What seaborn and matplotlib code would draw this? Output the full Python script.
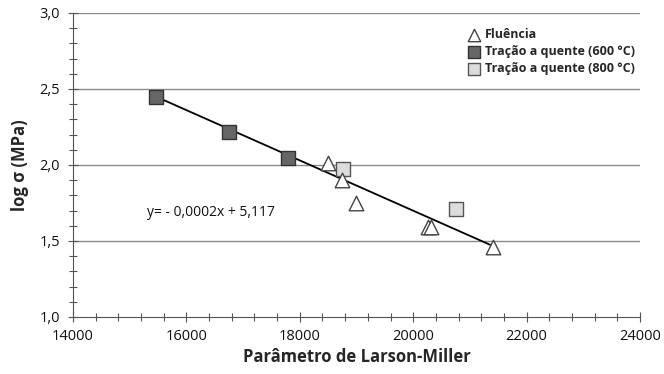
import matplotlib
matplotlib.use("Agg")
import matplotlib.pyplot as plt
import seaborn as sns
import pandas as pd
from matplotlib.ticker import MultipleLocator, FuncFormatter

# Data
fluencia_x = [18500, 18745, 18990, 20260, 20315, 21405]
fluencia_y = [2.01, 1.90, 1.75, 1.595, 1.595, 1.46]
t600_x = [15465, 16750, 17790]
t600_y = [2.447, 2.217, 2.046]
t800_x = [18760, 20755]
t800_y = [1.974, 1.711]
trend_x = [15480, 21405]
trend_y = [2.447, 1.467]
labels = ["Fluência", "Tração a quente (600 °C)", "Tração a quente (800 °C)"]
equation = "y= - 0,0002x + 5,117"

sns.set_theme(style="white")
plt.rcParams['font.family'] = ['Open Sans', 'DejaVu Sans']

fig = plt.figure(figsize=(6.64, 3.74), dpi=100)
ax = fig.add_axes([73 / 664, 57 / 374, 567 / 664, 304 / 374])

ax.set_xlim(14000, 24000)
ax.set_ylim(1.0, 3.0)
for yv in [1.5, 2.0, 2.5, 3.0]:
    ax.axhline(yv, color="#8a8a8a", lw=1.0, zorder=0)

sns.lineplot(x=trend_x, y=trend_y, ax=ax, color="black", lw=1.3, zorder=2)

sns.scatterplot(x=t600_x, y=t600_y, ax=ax, marker="s", s=100, color="#666666",
                edgecolor="#333333", linewidth=1.0, zorder=3, label=labels[1])
sns.scatterplot(x=t800_x, y=t800_y, ax=ax, marker="s", s=100, color="#dcdcdc",
                edgecolor="#555555", linewidth=1.0, zorder=3, label=labels[2])
sns.scatterplot(x=fluencia_x, y=fluencia_y, ax=ax, marker="^", s=110, color="white",
                edgecolor="#444444", linewidth=1.0, zorder=4, label=labels[0])

h, l = ax.get_legend_handles_labels()
order = [l.index(lab) for lab in labels]
leg = ax.legend([h[i] for i in order], [l[i] for i in order], loc="upper right",
                bbox_to_anchor=(1.005, 0.975), frameon=False, fontsize=9,
                handletextpad=0.4, labelspacing=0.32, borderaxespad=0.2,
                handlelength=1.0, markerscale=0.85)
for t in leg.get_texts():
    t.set_fontweight("bold")

ax.text(15300, 1.685, equation, fontsize=10, color="#111111", va="center")

ax.xaxis.set_major_locator(MultipleLocator(2000))
ax.xaxis.set_minor_locator(MultipleLocator(400))
ax.yaxis.set_major_locator(MultipleLocator(0.5))
ax.yaxis.set_minor_locator(MultipleLocator(0.1))
ax.yaxis.set_major_formatter(FuncFormatter(lambda v, p: f"{v:.1f}".replace(".", ",")))
ax.tick_params(axis="both", which="both", direction="inout", color="#555555",
               width=0.8, labelsize=10.5, labelcolor="#111111")
ax.tick_params(axis="x", which="major", pad=5)
ax.tick_params(axis="y", which="major", pad=6)
ax.tick_params(axis="both", which="major", length=7, bottom=True, left=True)
ax.tick_params(axis="both", which="minor", length=6, bottom=True, left=True)

for s in ["top", "right"]:
    ax.spines[s].set_visible(False)
for s in ["left", "bottom"]:
    ax.spines[s].set_color("#555555")
    ax.spines[s].set_linewidth(0.8)

ax.set_xlabel("Parâmetro de Larson-Miller", fontsize=12, fontweight="bold", labelpad=3)
ax.set_ylabel("log σ (MPa)", fontsize=12, fontweight="bold", labelpad=7)

fig.savefig("out.png", dpi=100)
